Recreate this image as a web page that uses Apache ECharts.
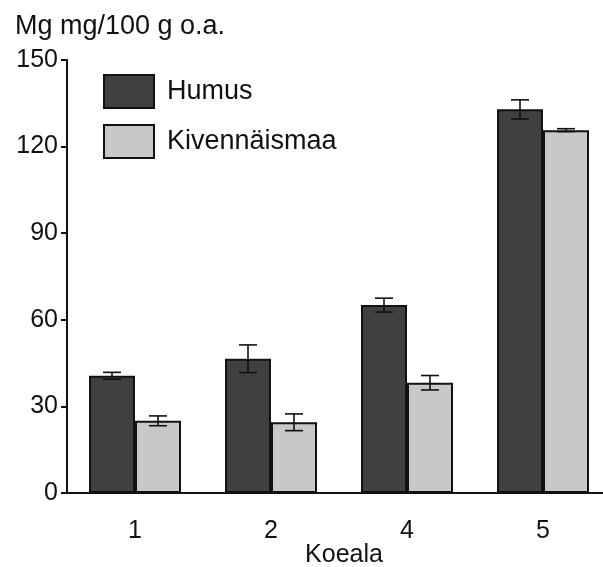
<!DOCTYPE html>
<html>
<head>
<meta charset="utf-8">
<script src="https://cdn.jsdelivr.net/npm/echarts@6/dist/echarts.min.js"></script>
<style>
  html,body{margin:0;padding:0;background:#fff;}
  #chart{width:603px;height:567px;}
</style>
</head>
<body>
<div id="chart"></div>
<script>
/* data */
const categories = ["1", "2", "4", "5"];
const humus = [40.6, 46.5, 65.1, 132.9];
const humusErr = [1.2, 4.8, 2.4, 3.3];
const kivennaismaa = [25.0, 24.5, 38.2, 125.7];
const kivennaismaaErr = [1.7, 2.9, 2.5, 0.5];
const yTicks = [0, 30, 60, 90, 120, 150];

const font = "'Liberation Sans', Arial, sans-serif";
const barW = 46;

const chart = echarts.init(document.getElementById("chart"));

// error bar data: [category index, value, err, offset sign]
const errData = [];
humus.forEach((v, i) => errData.push([i, v, humusErr[i], -1]));
kivennaismaa.forEach((v, i) => errData.push([i, v, kivennaismaaErr[i], 1]));

function renderErr(params, api){
	const idx = api.value(0), v = api.value(1), e = api.value(2), side = api.value(3);
	const c = api.coord([idx, v]);
	const x = c[0] + side * barW / 2;
	const hi = api.coord([idx, v + e])[1];
	const lo = api.coord([idx, v - e])[1];
	const cap = 9;
	const st = {stroke:"#111", lineWidth:1.6};
	return {
		type:"group",
		children:[
			{type:"line", shape:{x1:x, y1:hi, x2:x, y2:lo}, style:st},
			{type:"line", shape:{x1:x-cap, y1:hi, x2:x+cap, y2:hi}, style:st},
			{type:"line", shape:{x1:x-cap, y1:lo, x2:x+cap, y2:lo}, style:st}
		]
	};
}

chart.setOption({
	animation:false,
	backgroundColor:"#fff",
	textStyle:{fontFamily:font},
	title:{
		text:"Mg mg/100 g o.a.",
		left:10, top:8,
		textStyle:{fontFamily:font, fontSize:27, fontWeight:"normal", color:"#111"}
	},
	legend:{
		orient:"vertical",
		left:103, top:74, padding:0,
		icon:"rect",
		itemWidth:50, itemHeight:33, itemGap:15,
		data:["Humus", "Kivennäismaa"],
		textStyle:{fontFamily:font, fontSize:27, color:"#111", padding:[0,0,0,8]}
	},
	grid:{left:67, width:544, top:60, bottom:74, outerBoundsMode:"none", containLabel:false},
	xAxis:{
		type:"category",
		data:categories,
		name:"Koeala",
		nameLocation:"middle",
		nameGap:50,
		nameMoveOverlap:false,
		nameTextStyle:{fontFamily:font, fontSize:25, color:"#111", padding:[0,0,0,10]},
		axisLine:{lineStyle:{color:"#111", width:2}},
		axisTick:{show:false},
		axisLabel:{fontFamily:font, fontSize:25, color:"#111", margin:26}
	},
	yAxis:{
		type:"value",
		min:yTicks[0], max:yTicks[yTicks.length-1], interval:30,
		splitLine:{show:false},
		axisLine:{show:true, lineStyle:{color:"#111", width:2}},
		axisTick:{show:true, length:6, lineStyle:{color:"#111", width:2}},
		axisLabel:{fontFamily:font, fontSize:25, color:"#111", margin:9}
	},
	series:[
		{
			name:"Humus", type:"bar", data:humus,
			barWidth:barW, barGap:"0%",
			itemStyle:{color:"#404040", borderColor:"#111", borderWidth:2}
		},
		{
			name:"Kivennäismaa", type:"bar", data:kivennaismaa,
			barWidth:barW, barGap:"0%",
			itemStyle:{color:"#c8c8c8", borderColor:"#111", borderWidth:2}
		},
		{
			name:"err", type:"custom", data:errData,
			renderItem:renderErr, z:5,
			encode:{x:0, y:1}
		}
	]
});
</script>
</body>
</html>
